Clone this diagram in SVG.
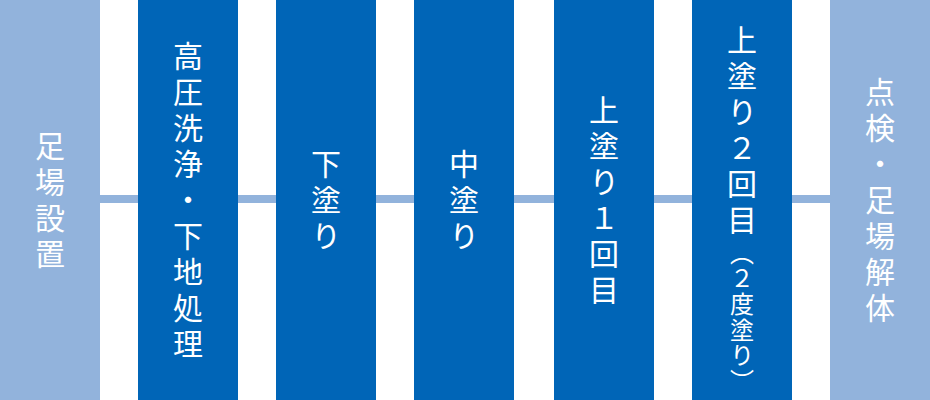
<svg xmlns="http://www.w3.org/2000/svg" width="930" height="400" viewBox="0 0 930 400">
<style>
.dark{fill:#0065B7}
.light{fill:#92B3DC}
.conn{stroke:#92B3DC;stroke-width:8;fill:none}
.t{fill:#ffffff;font-family:"Noto Sans CJK JP","Noto Sans CJK SC",sans-serif;font-size:30px;letter-spacing:6px;writing-mode:vertical-rl;text-anchor:start}
.s{font-size:24px;letter-spacing:1.5px}
</style>
<rect width="930" height="400" fill="#ffffff"/>
<g id="connectors">
<line class="conn" x1="100" y1="199" x2="138" y2="199"/>
<line class="conn" x1="238" y1="199" x2="276" y2="199"/>
<line class="conn" x1="376" y1="199" x2="414" y2="199"/>
<line class="conn" x1="514" y1="199" x2="554" y2="199"/>
<line class="conn" x1="654" y1="199" x2="692" y2="199"/>
<line class="conn" x1="792" y1="199" x2="830" y2="199"/>
</g>
<g id="node1">
<rect class="light" x="0" y="0" width="100" height="400"/>
<text class="t" x="50" y="131">足場設置</text>
</g>
<g id="node2">
<rect class="dark" x="138" y="0" width="100" height="400"/>
<text class="t" x="188" y="41">高圧洗浄・下地処理</text>
</g>
<g id="node3">
<rect class="dark" x="276" y="0" width="100" height="400"/>
<text class="t" x="326" y="149">下塗り</text>
</g>
<g id="node4">
<rect class="dark" x="414" y="0" width="100" height="400"/>
<text class="t" x="464" y="149">中塗り</text>
</g>
<g id="node5">
<rect class="dark" x="554" y="0" width="100" height="400"/>
<text class="t" x="604" y="95">上塗り１回目</text>
</g>
<g id="node6">
<rect class="dark" x="692" y="0" width="100" height="400"/>
<text class="t" x="742" y="25">上塗り２回目<tspan class="s">（２度塗り</tspan><tspan class="s" letter-spacing="0">）</tspan></text>
</g>
<g id="node7">
<rect class="light" x="830" y="0" width="100" height="400"/>
<text class="t" x="880" y="77">点検・足場解体</text>
</g>
</svg>
